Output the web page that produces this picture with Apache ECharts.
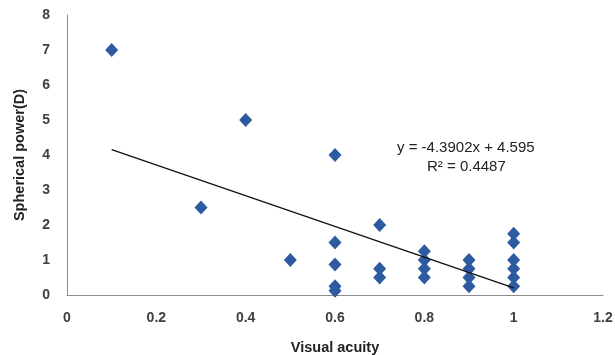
<!DOCTYPE html>
<html>
<head>
<meta charset="utf-8">
<script src="https://cdn.jsdelivr.net/npm/echarts@6/dist/echarts.min.js"></script>
<style>
  html, body { margin: 0; padding: 0; background: #fff; }
  #scatter_chart { width: 615px; height: 355px; }
</style>
</head>
<body>
<div id="scatter_chart"></div>
<script>
// visual acuity (x) vs spherical power (y)
const acuity = [0.1, 0.3, 0.4, 0.5, 0.6, 0.6, 0.6, 0.6, 0.6, 0.7, 0.7, 0.7, 0.8, 0.8, 0.8, 0.8, 0.9, 0.9, 0.9, 0.9, 1, 1, 1, 1, 1, 1]
const power = [7, 2.5, 5, 1, 4, 1.5, 0.875, 0.25, 0.125, 2, 0.75, 0.5, 1.25, 1, 0.75, 0.5, 1, 0.75, 0.5, 0.25, 1.75, 1.5, 1, 0.75, 0.5, 0.25]

// linear trendline end points
const trendX = [0.1, 1]
const trendY = [4.156, 0.205]

const equationText = 'y = -4.3902x + 4.595'
const r2Text = 'R² = 0.4487'

const chart = echarts.init(document.getElementById('scatter_chart'))

const labelStyle = {
  color: '#404040',
  fontFamily: 'Liberation Sans',
  fontSize: 14,
  fontWeight: 'bold'
}
const nameStyle = {
  color: '#222',
  fontFamily: 'Liberation Sans',
  fontSize: 14.5,
  fontWeight: 'bold'
}

chart.setOption({
  animation: false,
  grid: {
    left: 67,
    right: 12,
    top: 15,
    bottom: 60,
    containLabel: false,
    outerBoundsMode: 'none'
  },
  xAxis: {
    type: 'value',
    min: 0,
    max: 1.2,
    interval: 0.2,
    name: 'Visual acuity',
    nameLocation: 'middle',
    nameGap: 45,
    nameTextStyle: nameStyle,
    axisLine: { lineStyle: { color: '#8c8c8c', width: 1 } },
    axisTick: { show: false },
    splitLine: { show: false },
    axisLabel: Object.assign({ margin: 16 }, labelStyle)
  },
  yAxis: {
    type: 'value',
    min: 0,
    max: 8,
    interval: 1,
    name: 'Spherical power(D)',
    nameLocation: 'middle',
    nameGap: 40,
    nameTextStyle: nameStyle,
    axisLine: { show: true, lineStyle: { color: '#8c8c8c', width: 1 } },
    axisTick: { show: false },
    splitLine: { show: false },
    axisLabel: Object.assign({ margin: 17 }, labelStyle)
  },
  graphic: [
    {
      type: 'text',
      left: 397,
      top: 140,
      style: { text: equationText, fill: '#222', font: '15px Liberation Sans' }
    },
    {
      type: 'text',
      left: 427,
      top: 159,
      style: { text: r2Text, fill: '#222', font: '15px Liberation Sans' }
    }
  ],
  series: [
    {
      type: 'line',
      data: trendX.map((x, i) => [x, trendY[i]]),
      symbol: 'none',
      lineStyle: { color: '#111', width: 1.3 },
      z: 3
    },
    {
      type: 'scatter',
      data: acuity.map((x, i) => [x, power[i]]),
      symbol: 'diamond',
      symbolSize: [13, 14],
      itemStyle: { color: '#2d5aa0', opacity: 1 },
      z: 2
    }
  ]
})
</script>
</body>
</html>
